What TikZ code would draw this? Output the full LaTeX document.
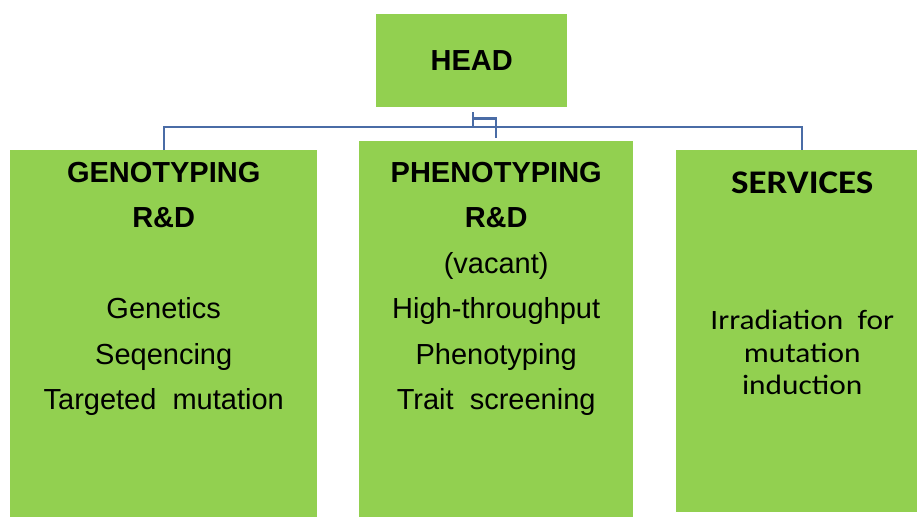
\documentclass[tikz,border=0pt]{standalone}
\usepackage{fontspec}
\setmainfont{Liberation Sans}
\newfontfamily\calib{Carlito}[FakeStretch=1.12]
\usetikzlibrary{positioning,calc}
\definecolor{leaf}{HTML}{92D050}
\definecolor{wireblue}{HTML}{4A6CA6}
\tikzset{
  unit/.style  = {fill=leaf, anchor=north west, inner sep=0pt},
  link/.style  = {line width=2.2pt, draw=wireblue},
  txt/.style   = {align=center, inner sep=0pt},
}

\begin{document}
\begin{tikzpicture}[x=1pt,y=-1pt]
  \useasboundingbox (0,0) rectangle (917,517);
  % boxes
  \node[unit, minimum width=191pt, minimum height=93pt] (head) at (376,14) {};
  \node[unit, minimum width=307pt, minimum height=367pt] (geno) at (10,150) {};
  \node[unit, minimum width=274pt, minimum height=376pt] (pheno) at (359,141) {};
  \node[unit, minimum width=241pt, minimum height=362pt] (serv) at (676,150) {};
  % texts
  \node[txt, font=\fontsize{29}{34}\selectfont\bfseries] (head-txt) at (head.center) {HEAD};
  \node[txt, font=\fontsize{29}{45.5}\selectfont, below=12pt of geno.north] (geno-txt)
    {\textbf{GENOTYPING}\\\textbf{R\&D}\\[45.5pt]Genetics\\Seqencing\\Targeted~~mutation};
  \node[txt, font=\fontsize{29}{45.5}\selectfont, below=21pt of pheno.north] (pheno-txt)
    {\textbf{PHENOTYPING}\\\textbf{R\&D}\\(vacant)\\High-throughput\\Phenotyping\\Trait~~screening};
  \node[txt, font=\calib\fontsize{33}{38}\selectfont\bfseries, below=22pt of serv.north, xshift=5.5pt] (serv-txt) {SERVICES};
  \node[txt, font=\calib\fontsize{28}{32.5}\selectfont, below=160pt of serv.north, xshift=5.5pt] (serv-body)
    {Irradiation~~for\\mutation\\induction};
  % connectors
  \coordinate (bus) at (0,127);
  \coordinate (stub) at ($(head.south)+(1.5,5)$);
  \draw[link] (stub) -- (stub |- bus);
  \draw[link] ($(stub)+(0,6)$) -| ([yshift=3pt]pheno.north);
  \draw[link] (geno.north) -- (geno.north |- bus) -- ([xshift=5.5pt]serv.north |- bus)
    -- ([xshift=5.5pt]serv.north);
\end{tikzpicture}
\end{document}
